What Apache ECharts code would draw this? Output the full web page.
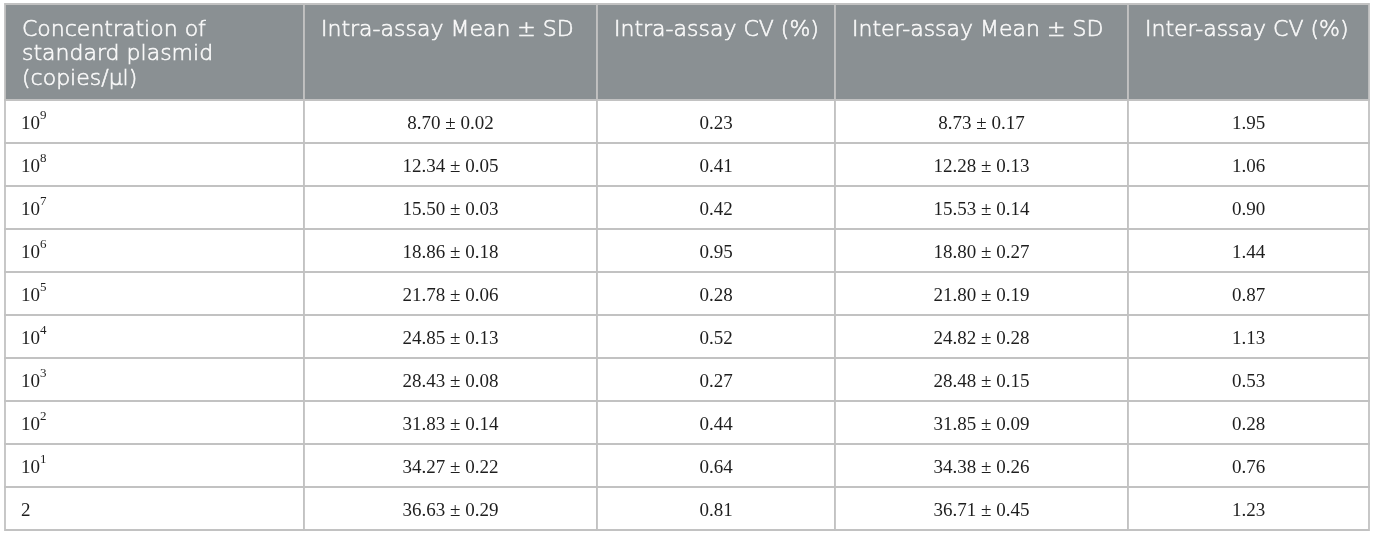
<!DOCTYPE html>
<html>
<head>
<meta charset="utf-8">
<script src="https://cdn.jsdelivr.net/npm/echarts@6/dist/echarts.min.js"></script>
<style>
  html, body { margin: 0; padding: 0; background: #fff; }
  #chart { width: 1375px; height: 535px; }
</style>
</head>
<body>
<div id="chart"></div>
<script>
const headers = [
  'Concentration of\nstandard plasmid\n(copies/μl)',
  'Intra-assay Mean ± SD',
  'Intra-assay CV (%)',
  'Inter-assay Mean ± SD',
  'Inter-assay CV (%)'
];
const concentrations = ['10{s|9}', '10{s|8}', '10{s|7}', '10{s|6}', '10{s|5}', '10{s|4}', '10{s|3}', '10{s|2}', '10{s|1}', '2'];
const intraMean = ['8.70', '12.34', '15.50', '18.86', '21.78', '24.85', '28.43', '31.83', '34.27', '36.63'];
const intraSD = ['0.02', '0.05', '0.03', '0.18', '0.06', '0.13', '0.08', '0.14', '0.22', '0.29'];
const intraCV = ['0.23', '0.41', '0.42', '0.95', '0.28', '0.52', '0.27', '0.44', '0.64', '0.81'];
const interMean = ['8.73', '12.28', '15.53', '18.80', '21.80', '24.82', '28.48', '31.85', '34.38', '36.71'];
const interSD = ['0.17', '0.13', '0.14', '0.27', '0.19', '0.28', '0.15', '0.09', '0.26', '0.45'];
const interCV = ['1.95', '1.06', '0.90', '1.44', '0.87', '1.13', '0.53', '0.28', '0.76', '1.23'];

// column edges in table units (pixels from table's left edge)
const COL_EDGES = [0, 299, 592, 830, 1123, 1364];
const LINE = '#c2c2c2';
const HEAD_BG = '#8a9093';

const rowKeys = concentrations.map((_, i) => 'r' + i);

const bodyData = [];
concentrations.forEach((c, i) => {
  const cells = [
    c,
    intraMean[i] + ' ± ' + intraSD[i],
    intraCV[i],
    interMean[i] + ' ± ' + interSD[i],
    interCV[i]
  ];
  cells.forEach((txt, j) => {
    bodyData.push([COL_EDGES[j], COL_EDGES[j + 1], i, txt, j]);
  });
});

const headData = headers.map((h, j) => [COL_EDGES[j], COL_EDGES[j + 1], 0, h, j]);

function cellRenderer(isHeader) {
  return function (params, api) {
    const x0 = api.value(0);
    const x1 = api.value(1);
    const row = api.value(2);
    const txt = isHeader ? headData[params.dataIndex][3] : bodyData[params.dataIndex][3];
    const col = api.value(4);
    const p0 = api.coord([x0, row]);
    const p1 = api.coord([x1, row]);
    const h = api.size([0, 1])[1];
    const top = p0[1] - h / 2;
    const rect = {
      type: 'rect',
      shape: { x: p0[0], y: top, width: p1[0] - p0[0], height: h },
      style: { fill: isHeader ? HEAD_BG : '#fff', stroke: LINE, lineWidth: 1.8 }
    };
    let text;
    if (isHeader) {
      text = {
        type: 'text',
        style: {
          text: txt,
          x: p0[0] + 17,
          y: top + 14,
          align: 'left',
          verticalAlign: 'top',
          fill: '#f8f8f8',
          stroke: '#f8f8f8',
          lineWidth: 0.6,
          font: '200 22px "DejaVu Sans", sans-serif',
          lineHeight: 24.5
        }
      };
    } else {
      text = {
        type: 'text',
        style: {
          text: txt,
          x: col === 0 ? p0[0] + 16 : (p0[0] + p1[0]) / 2,
          y: p0[1] + 3,
          align: col === 0 ? 'left' : 'center',
          verticalAlign: 'middle',
          fill: '#1e1e1e',
          font: '19px "Liberation Serif", "Times New Roman", serif',
          lineHeight: 30,
          rich: {
            s: {
              fontSize: 13,
              fontFamily: '"Liberation Serif", serif',
              fill: '#1e1e1e',
              verticalAlign: 'top',
              lineHeight: 18
            }
          }
        }
      };
    }
    return { type: 'group', children: [rect, text] };
  };
}

const chart = echarts.init(document.getElementById('chart'), null, { renderer: 'canvas' });
chart.setOption({
  animation: false,
  grid: [
    { left: 5, right: 6, top: 4, height: 96 },
    { left: 5, right: 6, top: 100, bottom: 5 }
  ],
  xAxis: [
    { gridIndex: 0, type: 'value', min: 0, max: 1364, show: false },
    { gridIndex: 1, type: 'value', min: 0, max: 1364, show: false }
  ],
  yAxis: [
    { gridIndex: 0, type: 'category', data: ['head'], show: false },
    { gridIndex: 1, type: 'category', data: rowKeys, inverse: true, show: false }
  ],
  series: [
    {
      type: 'custom',
      xAxisIndex: 0,
      yAxisIndex: 0,
      renderItem: cellRenderer(true),
      encode: { x: [0, 1], y: 2 },
      data: headData,
      silent: true
    },
    {
      type: 'custom',
      xAxisIndex: 1,
      yAxisIndex: 1,
      renderItem: cellRenderer(false),
      encode: { x: [0, 1], y: 2 },
      data: bodyData,
      silent: true
    }
  ]
});
</script>
</body>
</html>
